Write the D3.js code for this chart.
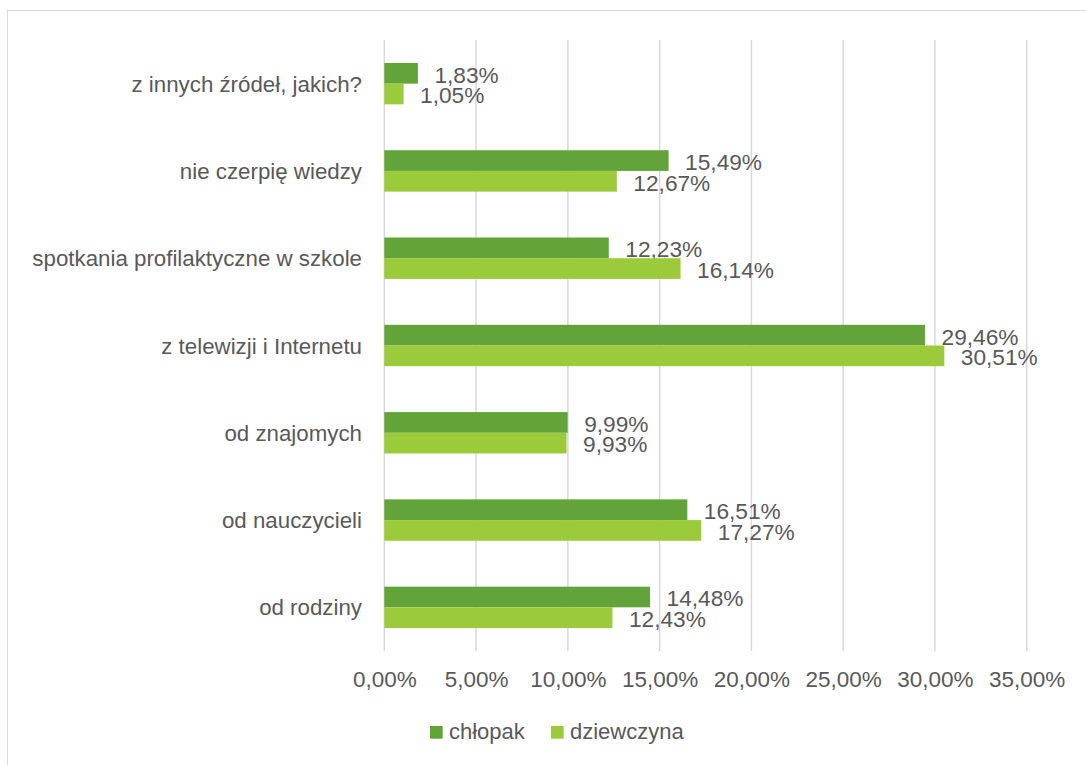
<!DOCTYPE html>
<html>
<head>
<meta charset="utf-8">
<script src="https://cdn.jsdelivr.net/npm/d3@7"></script>
<style>
  html, body { margin: 0; padding: 0; background: #fff; }
  svg { display: block; }
  text { font-family: "Liberation Sans", Arial, sans-serif; fill: #595959; }
</style>
</head>
<body>
<svg id="chart" width="1086" height="765"></svg>
<script>
const categories = [
  "z innych źródeł, jakich?",
  "nie czerpię wiedzy",
  "spotkania profilaktyczne w szkole",
  "z telewizji i Internetu",
  "od znajomych",
  "od nauczycieli",
  "od rodziny"
];
const seriesNames = ["chłopak", "dziewczyna"];
const chlopak = [1.83, 15.49, 12.23, 29.46, 9.99, 16.51, 14.48];
const dziewczyna = [1.05, 12.67, 16.14, 30.51, 9.93, 17.27, 12.43];
const tickValues = [0, 5, 10, 15, 20, 25, 30, 35];
const colors = ["#62a43a", "#9bcb3b"];

const svg = d3.select("#chart");
const W = 1086, H = 765;

svg.append("rect").attr("x", 0).attr("y", 0).attr("width", W).attr("height", H).attr("fill", "#fff");
// outer chart border (cropped)
svg.append("rect")
  .attr("x", 7.5).attr("y", 10.5)
  .attr("width", 1200).attr("height", 900)
  .attr("fill", "none").attr("stroke", "#d9d9d9").attr("stroke-width", 1);

const x = d3.scaleLinear().domain([0, 35]).range([384.3, 1026.7]);
const y = d3.scaleBand().domain(categories).range([40, 651]).padding(0);
const barH = 20.7;

const fmt = v => v.toFixed(2).replace(".", ",") + "%";

// gridlines
svg.append("g").selectAll("line").data(tickValues).join("line")
  .attr("x1", d => x(d)).attr("x2", d => x(d))
  .attr("y1", 40).attr("y2", 651)
  .attr("stroke", "#d9d9d9").attr("stroke-width", 1.5);

// x axis labels via d3 axis
const xAxis = d3.axisBottom(x).tickValues(tickValues).tickSize(0).tickPadding(0).tickFormat(fmt);
const gx = svg.append("g").attr("transform", "translate(0,651)").call(xAxis);
gx.select(".domain").remove();
gx.selectAll("text")
  .attr("y", 36).attr("dy", null)
  .style("font-size", "22.5px").style("font-family", "'Liberation Sans', Arial, sans-serif")
  .attr("fill", "#595959");

// category labels via d3 axis
const yAxis = d3.axisLeft(y).tickSize(0).tickPadding(0);
const gy = svg.append("g").attr("transform", "translate(362,0)").call(yAxis);
gy.select(".domain").remove();
gy.selectAll("text")
  .attr("x", 0).attr("dy", "8px").attr("dominant-baseline", "auto")
  .style("font-size", "22.3px").style("font-family", "'Liberation Sans', Arial, sans-serif")
  .attr("fill", "#595959");

const series = [chlopak, dziewczyna];
series.forEach((vals, si) => {
  const g = svg.append("g");
  const data = categories.map((c, i) => ({ c, v: vals[i] }));
  g.selectAll("rect").data(data).join("rect")
    .attr("x", x(0))
    .attr("y", d => y(d.c) + y.bandwidth() / 2 - barH + si * barH)
    .attr("width", d => x(d.v) - x(0))
    .attr("height", barH)
    .attr("fill", colors[si]);
  g.selectAll("text").data(data).join("text")
    .attr("x", d => x(d.v) + 16.5)
    .attr("y", d => y(d.c) + y.bandwidth() / 2 - barH + si * barH + barH - 1)
    .style("font-size", "22.7px")
    .text(d => fmt(d.v));
});

// legend
const legendX = [430, 551];
seriesNames.forEach((n, i) => {
  svg.append("rect").attr("x", legendX[i]).attr("y", 726).attr("width", 12.7).attr("height", 12.7).attr("fill", colors[i]);
  svg.append("text").attr("x", legendX[i] + 19).attr("y", 739).style("font-size", "22px").text(n);
});
</script>
</body>
</html>
